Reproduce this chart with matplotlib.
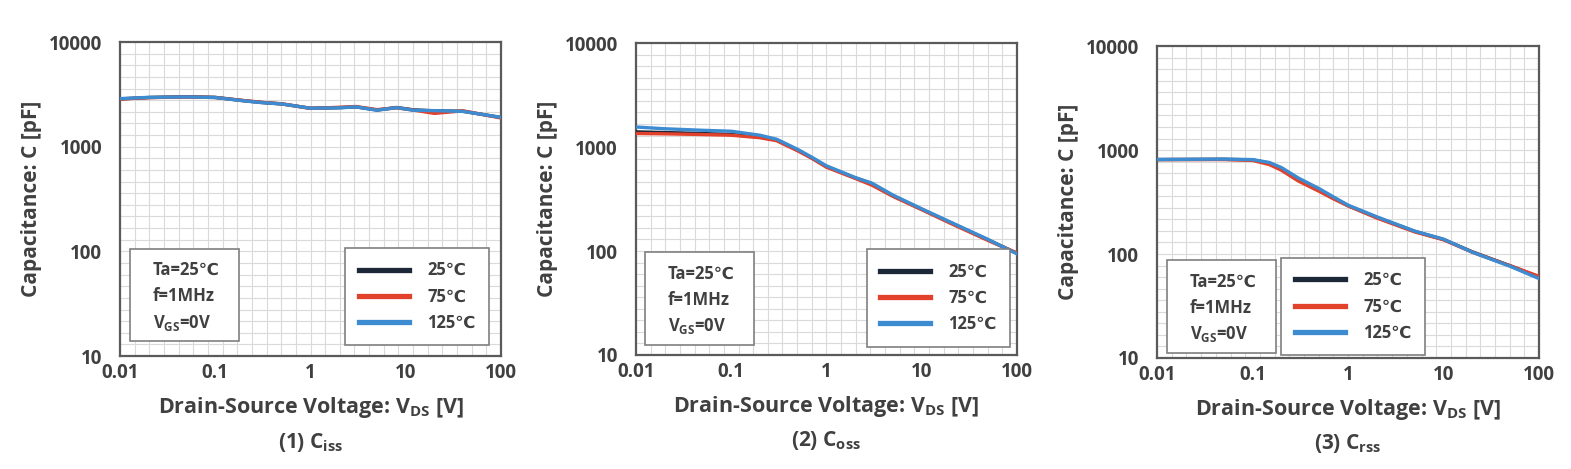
import numpy as np
import matplotlib
matplotlib.use("Agg")
import matplotlib.pyplot as plt
from matplotlib.patches import Rectangle

plt.rcParams['font.family'] = ['Open Sans', 'DejaVu Sans']
plt.rcParams['font.weight'] = 'bold'
plt.rcParams['mathtext.default'] = 'regular'

TXT = '#404040'
temps = ['25℃', '75℃', '125℃']
colors = ['#1c2738', '#e2412b', '#3d8bd0']

# (1) Ciss
vds1 = [0.01, 0.02, 0.05, 0.1, 0.2, 0.3, 0.5, 1, 2, 3, 5, 8, 12, 20, 40, 100]
ciss_25 = [2860, 2950, 3000, 2960, 2750, 2650, 2560, 2330, 2360, 2400, 2240, 2370, 2250, 2200, 2180, 1900]
ciss_75 = [2850, 2940, 2990, 2950, 2760, 2660, 2570, 2320, 2380, 2420, 2260, 2350, 2240, 2080, 2200, 1880]
ciss_125 = [2880, 2960, 2990, 2950, 2740, 2640, 2560, 2330, 2350, 2400, 2230, 2360, 2230, 2210, 2170, 1910]

# (2) Coss
vds2 = [0.01, 0.02, 0.05, 0.1, 0.2, 0.3, 0.5, 0.7, 1, 2, 3, 5, 10, 20, 50, 100]
coss_25 = [1400, 1380, 1350, 1320, 1250, 1170, 930, 790, 650, 505, 445, 340, 252, 188, 128, 95]
coss_75 = [1350, 1340, 1320, 1300, 1230, 1150, 920, 780, 640, 500, 430, 335, 250, 185, 126, 96]
coss_125 = [1560, 1500, 1450, 1420, 1300, 1190, 950, 800, 660, 510, 450, 345, 255, 190, 129, 94]

# (3) Crss
vds3 = [0.01, 0.05, 0.1, 0.15, 0.2, 0.3, 0.5, 0.7, 1, 2, 5, 10, 20, 50, 100]
crss_25 = [810, 815, 805, 745, 665, 525, 415, 350, 292, 225, 165, 138, 105, 77, 60]
crss_75 = [810, 810, 795, 725, 640, 505, 400, 340, 290, 222, 163, 137, 104, 77, 61]
crss_125 = [812, 818, 810, 760, 680, 540, 425, 355, 295, 228, 166, 139, 104, 76, 58]

xticks = [0.01, 0.1, 1, 10, 100]
xtick_labels = ['0.01', '0.1', '1', '10', '100']
yticks = [10, 100, 1000, 10000]
ytick_labels = ['10', '100', '1000', '10000']

panels = [
    (vds1, [ciss_25, ciss_75, ciss_125], '(1) C$_{iss}$',
     [0.0764, 0.2409, 0.2425, 0.6695], (0.026, 0.048, 0.286, 0.293), (0.780, 0.189)),
    (vds2, [coss_25, coss_75, coss_125], '(2) C$_{oss}$',
     [0.4048, 0.2431, 0.2425, 0.6650], (0.024, 0.032, 0.286, 0.298), (0.794, 0.183)),
    (vds3, [crss_25, crss_75, crss_125], '(3) C$_{rss}$',
     [0.7365, 0.2367, 0.2432, 0.6650], (0.026, 0.016, 0.286, 0.298), (0.513, 0.165)),
]

fig = plt.figure(figsize=(15.71, 4.69), dpi=100)

for x, series, caption, pos, box, leg_c in panels:
    ax = fig.add_axes(pos)
    ax.set_xscale('log')
    ax.set_yscale('log')
    ax.set_xlim(0.01, 100)
    ax.set_ylim(10, 10000)

    # graph-paper grid
    for i in range(1, 26):
        ax.axvline(10 ** (-2 + 4 * i / 26), color='#dadada', lw=0.8, zorder=0)
    for j in range(1, 27):
        ax.axhline(10 ** (1 + 3 * j / 27), color='#dadada', lw=0.8, zorder=0)

    for y, c, t in zip(series, colors, temps):
        ax.plot(x, y, color=c, lw=2.4, label=t, zorder=3)

    ax.set_xticks(xticks, labels=xtick_labels)
    ax.set_yticks(yticks, labels=ytick_labels)
    ax.minorticks_off()
    ax.tick_params(length=0, labelsize=13.5, labelcolor=TXT)
    ax.tick_params(axis='y', pad=13)
    ax.tick_params(axis='x', pad=5)
    for s in ax.spines.values():
        s.set_color('#5a5a5a')
        s.set_linewidth(1.6)

    ax.set_ylabel('Capacitance: C [pF]', fontsize=15, color=TXT, labelpad=5,
                  fontweight='bold')
    ax.set_xlabel('Drain-Source Voltage: V$_{DS}$ [V]', fontsize=15.5, color=TXT,
                  labelpad=9, fontweight='bold')
    ax.text(0.5, -0.275, caption, transform=ax.transAxes, ha='center', va='center',
            fontsize=15, color=TXT, fontweight='bold')

    # condition box
    bx, by, bw, bh = box
    ax.add_patch(Rectangle((bx, by), bw, bh, transform=ax.transAxes, facecolor='white',
                           edgecolor='#7f7f7f', lw=1.2, zorder=4))
    for k, s in enumerate(['Ta=25℃', 'f=1MHz', 'V$_{GS}$=0V']):
        ax.text(bx + 0.06, by + bh * (0.77 - 0.285 * k), s, transform=ax.transAxes,
                ha='left', va='center', fontsize=12, color=TXT, zorder=5,
                fontweight='bold')

    leg = ax.legend(loc='center', bbox_to_anchor=leg_c, frameon=True,
                    prop={'size': 12, 'weight': 'bold'},
                    fancybox=False, handlelength=3.0, handletextpad=1.1,
                    labelspacing=0.5, borderpad=0.8, framealpha=1)
    leg.get_frame().set_edgecolor('#7f7f7f')
    leg.get_frame().set_linewidth(1.2)
    leg.set_zorder(5)
    for line in leg.get_lines():
        line.set_linewidth(3.8)
    for t in leg.get_texts():
        t.set_color(TXT)

fig.savefig('out.png', dpi=100)
